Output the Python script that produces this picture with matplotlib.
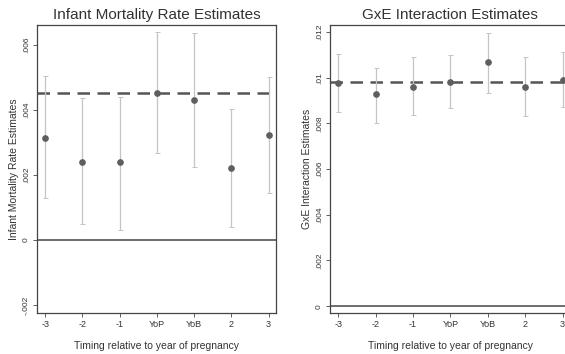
import matplotlib
matplotlib.use("Agg")
import matplotlib.pyplot as plt
import numpy as np

plt.rcParams["font.family"] = ["Liberation Sans", "DejaVu Sans"]

TICK_LABELS = ["-3", "-2", "-1", "YoP", "YoB", "2", "3"]
POS = [-3, -2, -1, 0, 1, 2, 3]

# Infant mortality rate estimates
imr_est = [0.00315, 0.0024, 0.0024, 0.00452, 0.0043, 0.00222, 0.00323]
imr_lo = [0.00129, 0.00049, 0.0003, 0.00268, 0.00225, 0.0004, 0.00145]
imr_hi = [0.00505, 0.00437, 0.0044, 0.0064, 0.00637, 0.00403, 0.00502]
imr_mean = 0.00452

# GxE interaction estimates
gxe_est = [0.00978, 0.0093, 0.0096, 0.00982, 0.01066, 0.0096, 0.0099]
gxe_lo = [0.0085, 0.0080, 0.00837, 0.00868, 0.00934, 0.0083, 0.0087]
gxe_hi = [0.01105, 0.01044, 0.0109, 0.0110, 0.01196, 0.0109, 0.01114]
gxe_mean = 0.00982

TXT = "#333333"
BAR = "#c4c4c4"
DOT = "#5e5e5e"


def panel(ax, est, lo, hi, mean, yticks, ylabels, ylim, title, ylabel):
    est = np.array(est)
    err = [est - np.array(lo), np.array(hi) - est]
    ax.errorbar(POS, est, yerr=err, fmt="o", color=DOT, ms=3.8,
                ecolor=BAR, elinewidth=0.9, capsize=1.8, capthick=0.7, zorder=3)
    ax.axhline(mean, color="#555555", linestyle=(0, (5, 3)), linewidth=1.8, zorder=2)
    ax.axhline(0, color="#555555", linewidth=1.2, zorder=2)
    ax.set_xlim(-3.22, 3.2)
    ax.set_ylim(*ylim)
    ax.set_xticks(POS)
    ax.set_xticklabels(TICK_LABELS, fontsize=6.5, color=TXT)
    ax.set_yticks(yticks)
    ax.set_yticklabels(ylabels, fontsize=6, color=TXT, rotation=90, va="center")
    ax.tick_params(length=3, width=0.6, color="#444444", pad=2)
    ax.set_title(title, fontsize=11, color=TXT, pad=4)
    ax.set_ylabel(ylabel, fontsize=7.5, color=TXT, labelpad=3)
    ax.set_xlabel("Timing relative to year of pregnancy", fontsize=7.5, color=TXT, labelpad=9)
    for s in ax.spines.values():
        s.set_color("#444444")
        s.set_linewidth(0.9)


fig = plt.figure(figsize=(5.65, 3.54), dpi=100)
ax1 = fig.add_axes([0.0655, 0.1158, 0.423, 0.8136])
ax2 = fig.add_axes([0.584, 0.1158, 0.425, 0.8136])

panel(ax1, imr_est, imr_lo, imr_hi, imr_mean,
      [-0.002, 0, 0.002, 0.004, 0.006], ["-.002", "0", ".002", ".004", ".006"],
      (-0.00225, 0.00662), "Infant Mortality Rate Estimates", "Infant Mortality Rate Estimates")
panel(ax2, gxe_est, gxe_lo, gxe_hi, gxe_mean,
      [0, 0.002, 0.004, 0.006, 0.008, 0.01, 0.012], ["0", ".002", ".004", ".006", ".008", ".01", ".012"],
      (-0.0003, 0.0123), "GxE Interaction Estimates", "GxE Interaction Estimates")

fig.savefig("out.png", dpi=100)
